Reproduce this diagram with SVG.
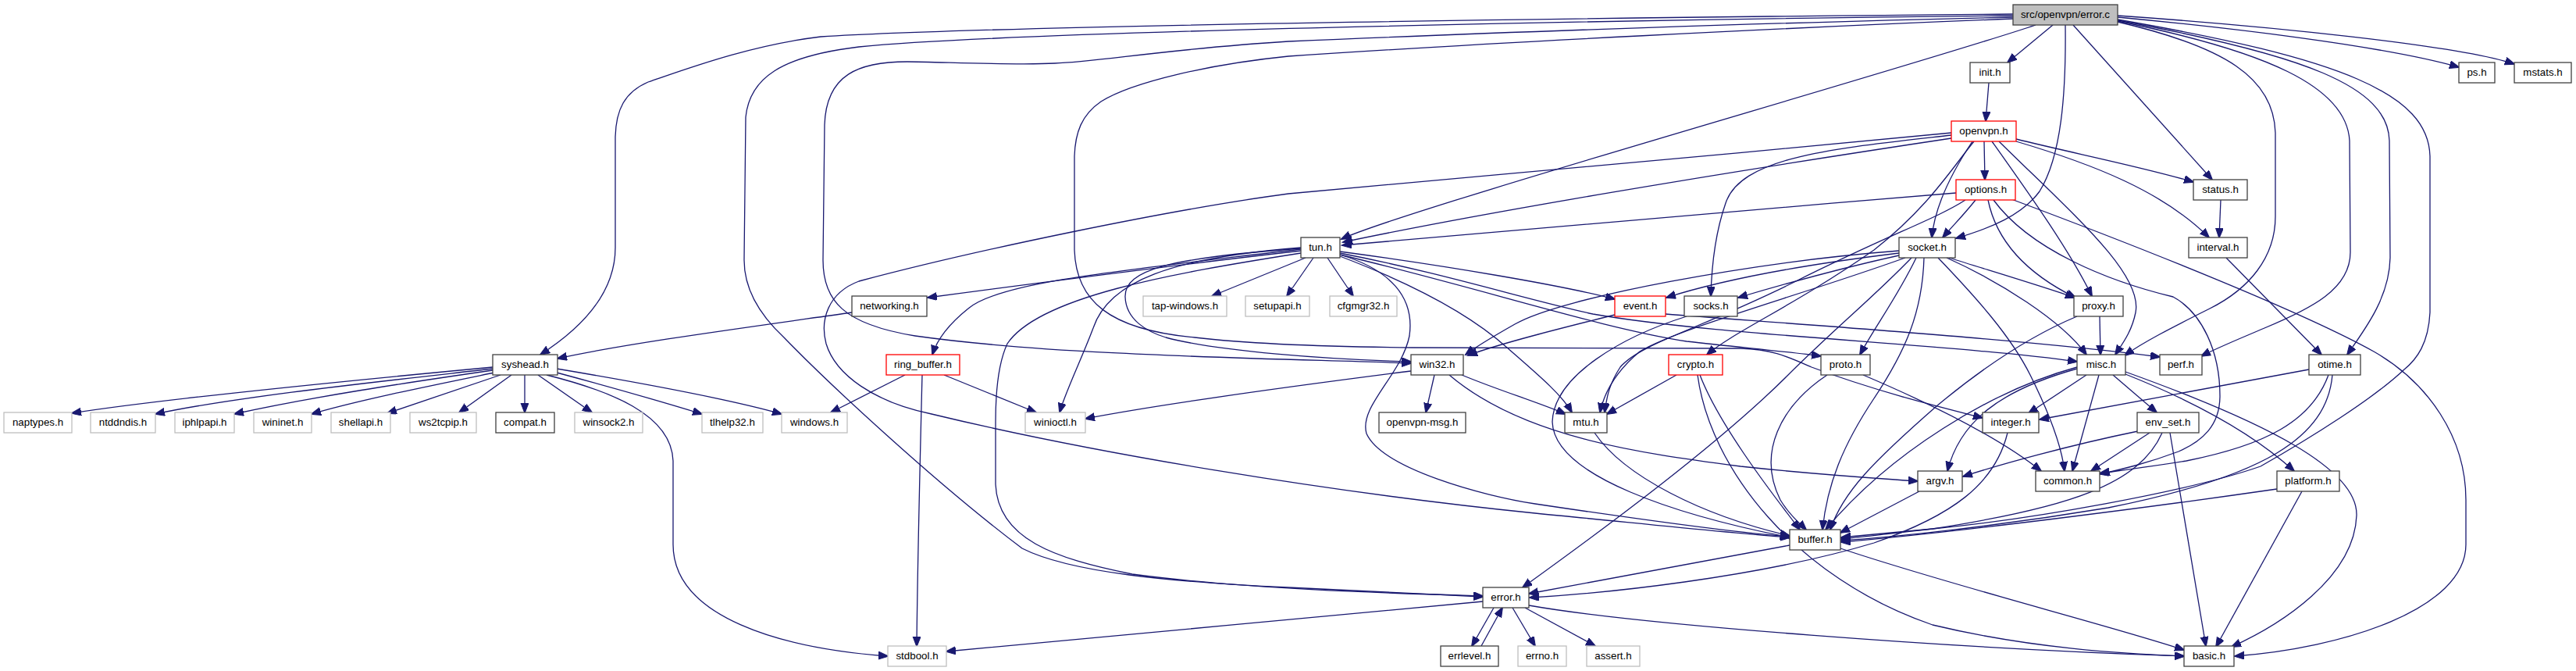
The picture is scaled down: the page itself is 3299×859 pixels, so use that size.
<svg xmlns="http://www.w3.org/2000/svg" width="3299" height="859" viewBox="0 0 3299 859">
<style>
.e{fill:none;stroke:#191970;stroke-width:1.3;marker-end:url(#a)}
.n rect{fill:#fff;stroke:#404040;stroke-width:1.3}
.r rect{fill:#fff;stroke:#ff0000;stroke-width:1.3}
.g rect{fill:#fff;stroke:#bfbfbf;stroke-width:1.3}
.root rect{fill:#bfbfbf;stroke:#404040;stroke-width:1.3}
text{font-family:"Liberation Sans",Arial,sans-serif;font-size:13.33px;fill:#000;text-anchor:middle}
</style>
<defs>
<marker id="a" markerWidth="14" markerHeight="11" refX="12" refY="5" orient="auto" markerUnits="userSpaceOnUse">
<path d="M0,0 L13,5 L0,10 z" fill="#191970" stroke="#191970" stroke-width="1"/>
</marker>
</defs>
<rect width="3299" height="859" fill="#fff"/>
<g id="edges">
<path class="e" d="M2578,18 C2100,22 1300,32 1051,47 C960,58 880,88 830,105 C800,118 789,140 788,175 L788,317 C788,375 745,420 692,454"/>
<path class="e" d="M2578,20 C2100,25 1300,40 1100,60 C1000,72 960,100 955,150 L953,333 C953,372 975,405 1004,432 C1060,490 1200,620 1309,702 C1370,733 1500,745 1650,752 C1750,757 1850,762 1899,764"/>
<path class="e" d="M2578,22 C2300,28 1900,42 1650,53 C1500,62 1400,80 1351,81 C1300,84 1200,79 1162,79 C1100,79 1058,95 1056,160 L1054,333 C1054,385 1080,415 1172,430 C1350,455 1600,458 1807,465"/>
<path class="e" d="M2578,24 C2300,35 1900,55 1650,72 C1550,82 1450,105 1410,130 C1385,147 1377,170 1376,200 L1376,320 C1378,385 1420,422 1530,432 C1600,440 1700,444 1808,445 L2229,446 C2270,447 2290,457 2320,470 C2400,500 2480,520 2539,535"/>
<path class="e" d="M2607,32 C2450,85 1800,268 1718,306"/>
<path class="e" d="M2629,32 L2571,80"/>
<path class="e" d="M2645,32 C2646,120 2640,200 2612,245 C2590,275 2550,292 2505,305"/>
<path class="e" d="M2655,32 L2833,230"/>
<path class="e" d="M2712,22 C2850,35 3050,58 3149,86"/>
<path class="e" d="M2712,20 C2900,33 3150,58 3220,82"/>
<path class="e" d="M2712,28 C2850,60 2912,100 2914,170 L2914,277 C2914,330 2880,370 2830,395 C2780,420 2745,438 2721,455"/>
<path class="e" d="M2712,27 C2900,65 3005,110 3009,180 L3010,323 C3010,370 2960,395 2900,420 C2865,435 2840,445 2819,456"/>
<path class="e" d="M2712,26 C2950,70 3058,110 3060,180 L3061,330 C3060,380 3030,420 3006,454"/>
<path class="e" d="M2712,25 C3000,75 3110,120 3112,200 L3112,400 C3110,440 3095,460 3079,473 C3040,510 2960,560 2895,597 C2800,630 2600,665 2475,677 C2420,682 2380,686 2358,688"/>
<path class="e" d="M2547,106 L2543,155"/>
<path class="e" d="M2541,181 L2542,230"/>
<path class="e" d="M2582,178 C2650,195 2750,215 2809,233"/>
<path class="e" d="M2582,181 C2680,210 2770,245 2829,304"/>
<path class="e" d="M2551,181 C2600,250 2650,320 2679,379"/>
<path class="e" d="M2560,181 C2650,270 2745,350 2735,400 C2730,425 2718,440 2709,454"/>
<path class="e" d="M2526,181 C2500,220 2478,262 2474,304"/>
<path class="e" d="M2528,181 C2500,215 2470,265 2400,320 C2300,390 2220,425 2186,454"/>
<path class="e" d="M2499,177 C2200,222 1900,272 1720,310"/>
<path class="e" d="M2499,173 C2350,190 2230,200 2210,260 C2196,300 2192,340 2191,379"/>
<path class="e" d="M2499,170 C2200,200 1800,232 1650,248 C1500,268 1250,320 1100,360 C1060,375 1050,410 1058,440 C1070,480 1120,515 1193,530 C1400,580 1700,630 1966,657 C2100,670 2220,683 2292,688"/>
<path class="e" d="M2505,247 C2200,272 1850,302 1719,314"/>
<path class="e" d="M2530,256 C2515,275 2500,290 2488,304"/>
<path class="e" d="M2546,256 C2555,300 2585,345 2658,381"/>
<path class="e" d="M2553,256 C2600,320 2700,360 2783,380 C2820,400 2843,450 2843,507 C2843,545 2820,565 2790,578 C2750,593 2720,600 2690,607"/>
<path class="e" d="M2576,255 C2750,320 2950,400 3040,450 C3110,490 3158,560 3158,640 L3158,697 C3158,780 3000,830 2862,840"/>
<path class="e" d="M2517,256 C2480,280 2420,300 2300,360 C2180,420 2100,440 2075,470 C2062,490 2058,505 2055,528"/>
<path class="e" d="M2844,256 L2842,304"/>
<path class="e" d="M2851,330 L2973,454"/>
<path class="e" d="M1666,321 C1500,340 1300,366 1188,381"/>
<path class="e" d="M1672,330 L1552,379"/>
<path class="e" d="M1682,330 L1648,379"/>
<path class="e" d="M1700,330 L1733,379"/>
<path class="e" d="M1666,319 C1450,345 1280,360 1240,395 C1215,415 1200,435 1194,454"/>
<path class="e" d="M1666,317 C1500,330 1420,360 1400,420 C1385,460 1365,500 1357,528"/>
<path class="e" d="M1666,324 C1500,350 1330,380 1290,440 C1276,470 1275,520 1275,540 L1275,620 C1278,690 1350,715 1450,735 C1600,755 1800,760 1899,763"/>
<path class="e" d="M1666,318 C1500,330 1440,345 1441,380 C1442,410 1470,425 1493,432 C1560,450 1700,460 1807,463"/>
<path class="e" d="M1716,326 C1780,345 1812,380 1805,430 C1795,480 1740,520 1750,555 C1770,600 1900,635 1966,645 C2100,665 2220,682 2292,687"/>
<path class="e" d="M1716,322 C1850,340 2000,365 2068,383"/>
<path class="e" d="M1716,324 C1850,350 1960,385 2040,402 C2200,430 2500,440 2660,463"/>
<path class="e" d="M1716,326 C1900,370 2050,420 2160,437 C2230,445 2290,450 2332,456"/>
<path class="e" d="M1716,328 C1800,360 1880,400 1930,445 C1970,480 2000,505 2013,528"/>
<path class="e" d="M2432,321 C2250,335 2000,380 1940,415 C1910,432 1890,444 1877,454"/>
<path class="e" d="M2432,324 C2300,340 2200,360 2134,381"/>
<path class="e" d="M2432,327 C2350,345 2280,365 2226,381"/>
<path class="e" d="M2454,330 C2430,380 2400,420 2382,454"/>
<path class="e" d="M2448,330 C2400,380 2350,420 2290,480 C2200,570 2050,680 1950,752"/>
<path class="e" d="M2440,330 C2300,380 2150,420 2100,450 C2070,475 2055,500 2049,528"/>
<path class="e" d="M2464,330 C2462,400 2440,450 2400,510 C2360,570 2340,620 2334,678"/>
<path class="e" d="M2482,330 C2530,380 2575,430 2600,480 C2625,530 2640,570 2644,603"/>
<path class="e" d="M2496,330 C2560,350 2620,368 2657,381"/>
<path class="e" d="M2493,330 C2560,360 2640,410 2672,454"/>
<path class="e" d="M2068,403 C2000,420 1920,440 1880,455"/>
<path class="e" d="M2133,402 C2300,415 2600,435 2766,457"/>
<path class="e" d="M2160,405 C2080,430 1990,480 1988,540 C1990,610 2150,660 2292,688"/>
<path class="e" d="M2689,405 L2690,454"/>
<path class="e" d="M2660,405 C2600,430 2540,470 2480,520 C2400,590 2360,630 2344,678"/>
<path class="e" d="M631,470 C450,487 200,512 92,529"/>
<path class="e" d="M631,472 C500,487 300,508 199,530"/>
<path class="e" d="M631,474 C520,490 400,508 300,530"/>
<path class="e" d="M633,477 C560,492 460,512 399,530"/>
<path class="e" d="M641,480 L496,529"/>
<path class="e" d="M655,480 L588,528"/>
<path class="e" d="M672,480 L672,528"/>
<path class="e" d="M689,480 L758,528"/>
<path class="e" d="M713,477 C780,495 850,515 899,530"/>
<path class="e" d="M713,472 C820,490 930,510 1001,530"/>
<path class="e" d="M700,480 C780,500 860,530 862,590 L862,697 C862,790 1000,830 1137,840"/>
<path class="e" d="M1091,400 C950,420 800,440 714,459"/>
<path class="e" d="M1159,480 L1064,528"/>
<path class="e" d="M1209,480 L1327,528"/>
<path class="e" d="M1181,480 C1178,600 1175,720 1174,827"/>
<path class="e" d="M1837,480 L1826,528"/>
<path class="e" d="M1872,480 C1920,500 1970,515 2005,530"/>
<path class="e" d="M1856,480 C1950,560 2100,580 2229,597 C2330,608 2400,612 2456,616"/>
<path class="e" d="M1807,475 C1650,495 1500,515 1390,536"/>
<path class="e" d="M2147,480 L2058,530"/>
<path class="e" d="M2177,480 C2200,540 2260,620 2305,678"/>
<path class="e" d="M2174,480 C2190,600 2300,740 2475,800 C2600,830 2720,837 2797,840"/>
<path class="e" d="M2340,480 C2280,520 2250,580 2280,640 C2292,660 2305,670 2313,678"/>
<path class="e" d="M2386,480 C2480,520 2560,560 2614,603"/>
<path class="e" d="M2672,480 L2598,529"/>
<path class="e" d="M2688,480 L2654,603"/>
<path class="e" d="M2706,480 L2762,528"/>
<path class="e" d="M2722,479 C2800,510 2880,550 2938,603"/>
<path class="e" d="M2722,476 C2900,540 3020,600 3018,660 C3015,740 2920,800 2858,828"/>
<path class="e" d="M2660,472 C2560,500 2510,540 2494,603"/>
<path class="e" d="M2660,470 C2550,500 2420,580 2338,678"/>
<path class="e" d="M2571,554 C2555,620 2500,660 2400,695 C2250,740 2050,760 1959,765"/>
<path class="e" d="M2738,552 C2650,570 2560,595 2514,610"/>
<path class="e" d="M2753,554 L2678,603"/>
<path class="e" d="M2769,554 C2740,620 2650,650 2475,677 C2420,683 2380,688 2358,690"/>
<path class="e" d="M2779,554 L2825,827"/>
<path class="e" d="M2957,473 L2612,537"/>
<path class="e" d="M2982,480 C2960,540 2900,570 2800,590 C2750,598 2710,603 2689,606"/>
<path class="e" d="M2987,480 C2980,560 2900,610 2700,650 C2550,675 2420,688 2358,692"/>
<path class="e" d="M2916,626 C2750,650 2500,682 2358,694"/>
<path class="e" d="M2948,629 L2838,828"/>
<path class="e" d="M2458,629 L2357,682"/>
<path class="e" d="M2042,554 C2080,610 2180,660 2292,686"/>
<path class="e" d="M2292,698 L1958,760"/>
<path class="e" d="M2357,702 C2500,750 2700,800 2797,832"/>
<path class="e" d="M1913,778 L1885,827"/>
<path class="e" d="M1897,827 L1924,778"/>
<path class="e" d="M1937,778 L1966,827"/>
<path class="e" d="M1953,778 L2043,827"/>
<path class="e" d="M1899,770 C1700,790 1400,815 1212,834"/>
<path class="e" d="M1958,775 C2100,800 2500,830 2797,840"/>
</g>
<g id="node-error_c" class="root"><rect x="2578" y="6" width="134" height="26"/><text x="2645" y="22.5">src/openvpn/error.c</text></g>
<g id="node-init_h" class="n"><rect x="2523" y="80" width="51" height="26"/><text x="2548.5" y="96.5">init.h</text></g>
<g id="node-ps_h" class="n"><rect x="3149" y="80" width="46" height="26"/><text x="3172" y="96.5">ps.h</text></g>
<g id="node-mstats_h" class="n"><rect x="3220" y="80" width="73" height="26"/><text x="3256.5" y="96.5">mstats.h</text></g>
<g id="node-openvpn_h" class="r"><rect x="2499" y="155" width="83" height="26"/><text x="2540.5" y="171.5">openvpn.h</text></g>
<g id="node-options_h" class="r"><rect x="2505" y="230" width="76" height="26"/><text x="2543" y="246.5">options.h</text></g>
<g id="node-status_h" class="n"><rect x="2809" y="230" width="69" height="26"/><text x="2843.5" y="246.5">status.h</text></g>
<g id="node-tun_h" class="n"><rect x="1666" y="304" width="50" height="26"/><text x="1691" y="320.5">tun.h</text></g>
<g id="node-socket_h" class="n"><rect x="2432" y="304" width="72" height="26"/><text x="2468" y="320.5">socket.h</text></g>
<g id="node-interval_h" class="n"><rect x="2803" y="304" width="75" height="26"/><text x="2840.5" y="320.5">interval.h</text></g>
<g id="node-networking_h" class="n"><rect x="1091" y="379" width="96" height="26"/><text x="1139" y="395.5">networking.h</text></g>
<g id="node-tap_windows_h" class="g"><rect x="1464" y="379" width="107" height="26"/><text x="1517.5" y="395.5">tap-windows.h</text></g>
<g id="node-setupapi_h" class="g"><rect x="1595" y="379" width="82" height="26"/><text x="1636" y="395.5">setupapi.h</text></g>
<g id="node-cfgmgr32_h" class="g"><rect x="1703" y="379" width="86" height="26"/><text x="1746" y="395.5">cfgmgr32.h</text></g>
<g id="node-event_h" class="r"><rect x="2068" y="379" width="65" height="26"/><text x="2100.5" y="395.5">event.h</text></g>
<g id="node-socks_h" class="n"><rect x="2157" y="379" width="68" height="26"/><text x="2191" y="395.5">socks.h</text></g>
<g id="node-proxy_h" class="n"><rect x="2656" y="379" width="63" height="26"/><text x="2687.5" y="395.5">proxy.h</text></g>
<g id="node-syshead_h" class="n"><rect x="631" y="454" width="83" height="26"/><text x="672.5" y="470.5">syshead.h</text></g>
<g id="node-ring_buffer_h" class="r"><rect x="1135" y="454" width="94" height="26"/><text x="1182" y="470.5">ring_buffer.h</text></g>
<g id="node-win32_h" class="n"><rect x="1807" y="454" width="67" height="26"/><text x="1840.5" y="470.5">win32.h</text></g>
<g id="node-crypto_h" class="r"><rect x="2137" y="454" width="69" height="26"/><text x="2171.5" y="470.5">crypto.h</text></g>
<g id="node-proto_h" class="n"><rect x="2332" y="454" width="63" height="26"/><text x="2363.5" y="470.5">proto.h</text></g>
<g id="node-misc_h" class="n"><rect x="2660" y="454" width="62" height="26"/><text x="2691" y="470.5">misc.h</text></g>
<g id="node-perf_h" class="n"><rect x="2766" y="454" width="54" height="26"/><text x="2793" y="470.5">perf.h</text></g>
<g id="node-otime_h" class="n"><rect x="2957" y="454" width="66" height="26"/><text x="2990" y="470.5">otime.h</text></g>
<g id="node-naptypes_h" class="g"><rect x="5" y="528" width="87" height="26"/><text x="48.5" y="544.5">naptypes.h</text></g>
<g id="node-ntddndis_h" class="g"><rect x="116" y="528" width="83" height="26"/><text x="157.5" y="544.5">ntddndis.h</text></g>
<g id="node-iphlpapi_h" class="g"><rect x="224" y="528" width="76" height="26"/><text x="262" y="544.5">iphlpapi.h</text></g>
<g id="node-wininet_h" class="g"><rect x="325" y="528" width="74" height="26"/><text x="362" y="544.5">wininet.h</text></g>
<g id="node-shellapi_h" class="g"><rect x="424" y="528" width="76" height="26"/><text x="462" y="544.5">shellapi.h</text></g>
<g id="node-ws2tcpip_h" class="g"><rect x="525" y="528" width="85" height="26"/><text x="567.5" y="544.5">ws2tcpip.h</text></g>
<g id="node-compat_h" class="n"><rect x="635" y="528" width="75" height="26"/><text x="672.5" y="544.5">compat.h</text></g>
<g id="node-winsock2_h" class="g"><rect x="736" y="528" width="87" height="26"/><text x="779.5" y="544.5">winsock2.h</text></g>
<g id="node-tlhelp32_h" class="g"><rect x="899" y="528" width="78" height="26"/><text x="938" y="544.5">tlhelp32.h</text></g>
<g id="node-windows_h" class="g"><rect x="1001" y="528" width="84" height="26"/><text x="1043" y="544.5">windows.h</text></g>
<g id="node-winioctl_h" class="g"><rect x="1313" y="528" width="77" height="26"/><text x="1351.5" y="544.5">winioctl.h</text></g>
<g id="node-openvpn_msg_h" class="n"><rect x="1766" y="528" width="111" height="26"/><text x="1821.5" y="544.5">openvpn-msg.h</text></g>
<g id="node-mtu_h" class="n"><rect x="2004" y="528" width="54" height="26"/><text x="2031" y="544.5">mtu.h</text></g>
<g id="node-integer_h" class="n"><rect x="2539" y="528" width="72" height="26"/><text x="2575" y="544.5">integer.h</text></g>
<g id="node-env_set_h" class="n"><rect x="2737" y="528" width="79" height="26"/><text x="2776.5" y="544.5">env_set.h</text></g>
<g id="node-argv_h" class="n"><rect x="2456" y="603" width="57" height="26"/><text x="2484.5" y="619.5">argv.h</text></g>
<g id="node-common_h" class="n"><rect x="2607" y="603" width="82" height="26"/><text x="2648" y="619.5">common.h</text></g>
<g id="node-platform_h" class="n"><rect x="2916" y="603" width="80" height="26"/><text x="2956" y="619.5">platform.h</text></g>
<g id="node-buffer_h" class="n"><rect x="2292" y="678" width="65" height="26"/><text x="2324.5" y="694.5">buffer.h</text></g>
<g id="node-error_h" class="n"><rect x="1899" y="752" width="59" height="26"/><text x="1928.5" y="768.5">error.h</text></g>
<g id="node-stdbool_h" class="g"><rect x="1137" y="827" width="75" height="26"/><text x="1174.5" y="843.5">stdbool.h</text></g>
<g id="node-errlevel_h" class="n"><rect x="1845" y="827" width="74" height="26"/><text x="1882" y="843.5">errlevel.h</text></g>
<g id="node-errno_h" class="g"><rect x="1944" y="827" width="62" height="26"/><text x="1975" y="843.5">errno.h</text></g>
<g id="node-assert_h" class="g"><rect x="2032" y="827" width="68" height="26"/><text x="2066" y="843.5">assert.h</text></g>
<g id="node-basic_h" class="n"><rect x="2797" y="827" width="64" height="26"/><text x="2829" y="843.5">basic.h</text></g>
</svg>
